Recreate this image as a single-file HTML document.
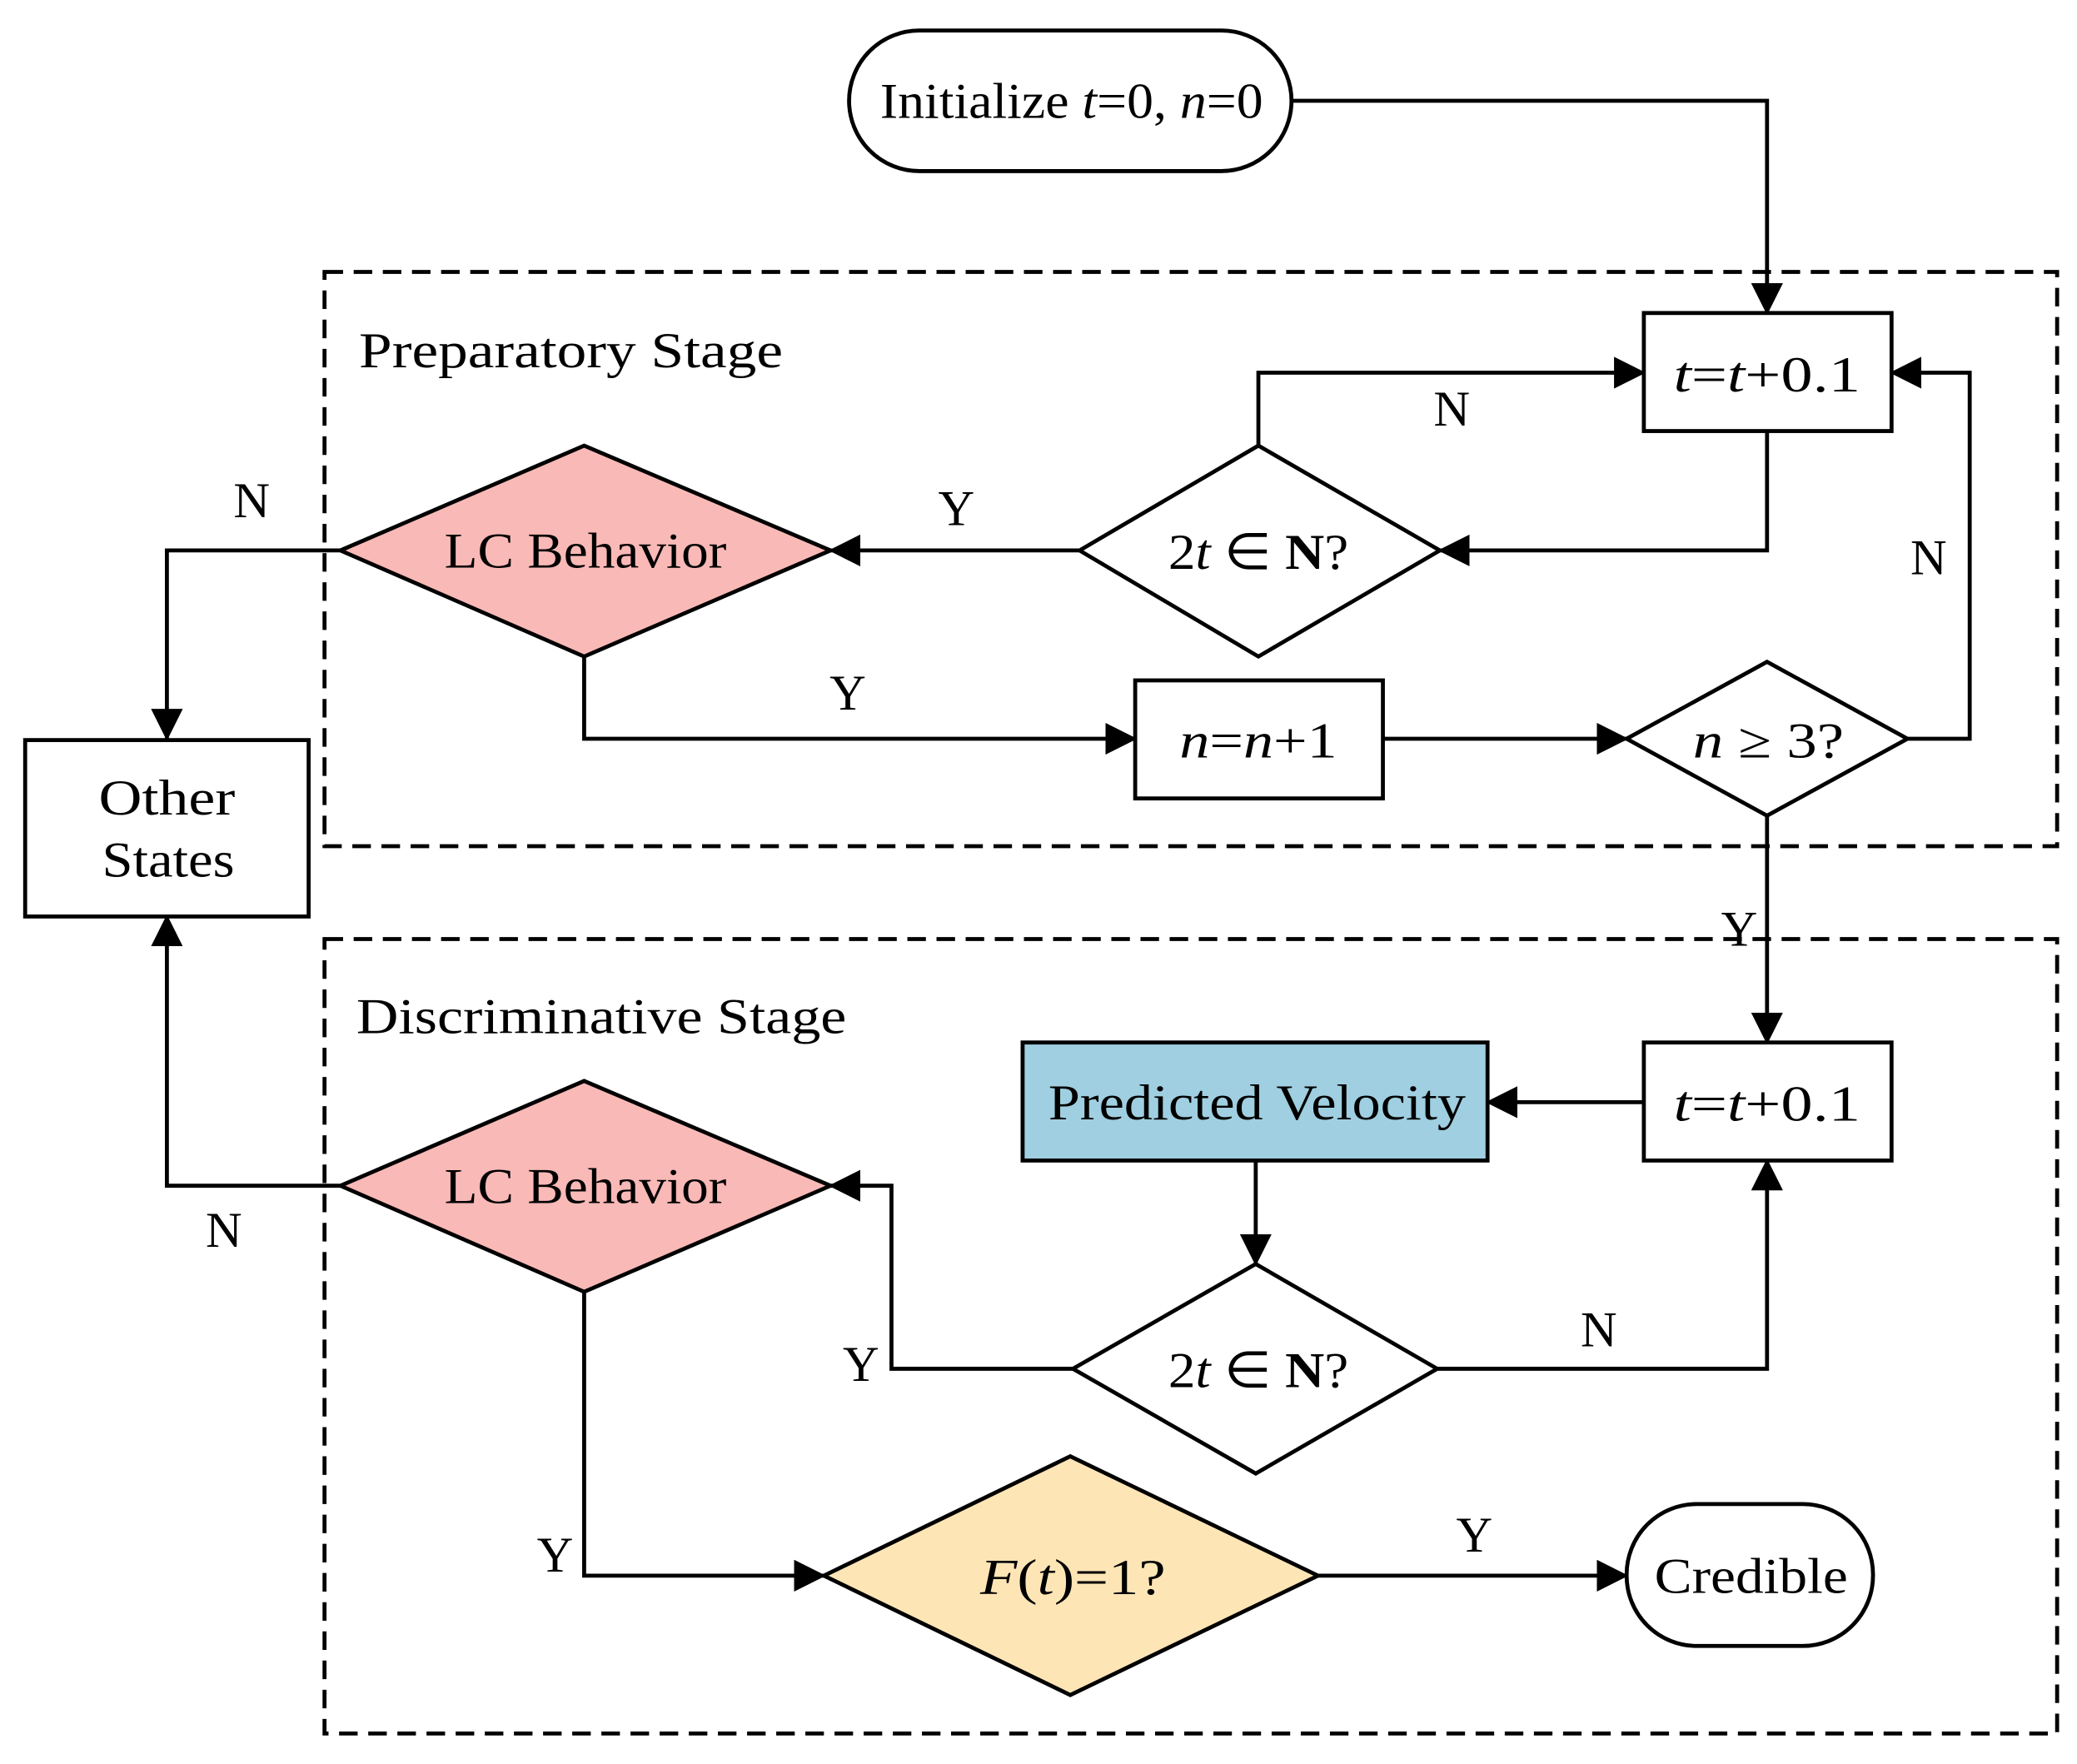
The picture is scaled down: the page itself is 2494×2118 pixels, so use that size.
<!DOCTYPE html>
<html><head><meta charset="utf-8"><style>
html,body{margin:0;padding:0;background:#fff;}
svg{display:block;}
text{font-family:"Liberation Serif",serif;font-size:38px;fill:#000;}
</style></head><body>
<svg width="2494" height="2118" viewBox="0 0 1568 1330" preserveAspectRatio="none" xmlns="http://www.w3.org/2000/svg">
<defs>
<marker id="a" markerWidth="8" markerHeight="8" refX="7.5" refY="4" orient="auto" markerUnits="strokeWidth">
<path d="M0,0 L8,4 L0,8 Z" fill="#000"/>
</marker>
</defs>
<g fill="none" stroke="#000" stroke-width="3">
<rect x="245" y="205" width="1308" height="433" stroke-dasharray="14,8"/>
<rect x="245" y="708" width="1308" height="599" stroke-dasharray="14,8"/>
<rect x="641" y="23" width="334" height="106" rx="53" fill="#fff"/>
<rect x="1241" y="236" width="187" height="89" fill="#fff"/>
<polygon points="815,415 950,336 1087,415 950,495" fill="#fff"/>
<polygon points="257,415 441,336 627,415 441,495" fill="#f9b9b7"/>
<rect x="19" y="558" width="214" height="133" fill="#fff"/>
<rect x="857" y="513" width="187" height="89" fill="#fff"/>
<polygon points="1228,557 1334,499 1440,557 1334,615" fill="#fff"/>
<rect x="1241" y="786" width="187" height="89" fill="#fff"/>
<rect x="772" y="786" width="351" height="89" fill="#9fcfe0"/>
<polygon points="810,1032 948,953 1085,1032 948,1111" fill="#fff"/>
<polygon points="257,894 441,815 627,894 441,974" fill="#f9b9b7"/>
<polygon points="622,1188 808,1098 995,1188 808,1278" fill="#fde5b6"/>
<rect x="1228" y="1134" width="186" height="107" rx="53" fill="#fff"/>

<polyline points="975,76 1334,76 1334,236" marker-end="url(#a)"/>
<polyline points="1334,325 1334,415 1087,415" marker-end="url(#a)"/>
<polyline points="950,336 950,281 1241,281" marker-end="url(#a)"/>
<polyline points="815,415 627,415" marker-end="url(#a)"/>
<polyline points="257,415 126,415 126,557" marker-end="url(#a)"/>
<polyline points="441,495 441,557 857,557" marker-end="url(#a)"/>
<polyline points="1044,557 1228,557" marker-end="url(#a)"/>
<polyline points="1440,557 1487,557 1487,281 1428,281" marker-end="url(#a)"/>
<polyline points="1334,615 1334,786" marker-end="url(#a)"/>
<polyline points="1241,831 1123,831" marker-end="url(#a)"/>
<polyline points="948,875 948,953" marker-end="url(#a)"/>
<polyline points="1085,1032 1334,1032 1334,875" marker-end="url(#a)"/>
<polyline points="810,1032 673,1032 673,894 627,894" marker-end="url(#a)"/>
<polyline points="257,894 126,894 126,691" marker-end="url(#a)"/>
<polyline points="441,974 441,1188 622,1188" marker-end="url(#a)"/>
<polyline points="995,1188 1228,1188" marker-end="url(#a)"/>
</g>
<g text-anchor="middle">
<text x="809" y="89" textLength="289" lengthAdjust="spacingAndGlyphs">Initialize <tspan font-style="italic">t</tspan>=0, <tspan font-style="italic">n</tspan>=0</text>
<text x="1334" y="295" textLength="141" lengthAdjust="spacingAndGlyphs"><tspan font-style="italic">t</tspan>=<tspan font-style="italic">t</tspan>+0.1</text>
<text x="950" y="429" textLength="136" lengthAdjust="spacingAndGlyphs">2<tspan font-style="italic">t</tspan> ∈ <tspan font-weight="bold">N</tspan>?</text>
<text x="442" y="428" textLength="213" lengthAdjust="spacingAndGlyphs">LC Behavior</text>
<text x="126" y="614" textLength="103" lengthAdjust="spacingAndGlyphs">Other</text>
<text x="127" y="661" textLength="100" lengthAdjust="spacingAndGlyphs">States</text>
<text x="950" y="571" textLength="119" lengthAdjust="spacingAndGlyphs"><tspan font-style="italic">n</tspan>=<tspan font-style="italic">n</tspan>+1</text>
<text x="1335" y="571" textLength="114" lengthAdjust="spacingAndGlyphs"><tspan font-style="italic">n</tspan> ≥ 3?</text>
<text x="1334" y="845" textLength="141" lengthAdjust="spacingAndGlyphs"><tspan font-style="italic">t</tspan>=<tspan font-style="italic">t</tspan>+0.1</text>
<text x="949" y="844" textLength="315" lengthAdjust="spacingAndGlyphs">Predicted Velocity</text>
<text x="950" y="1046" textLength="136" lengthAdjust="spacingAndGlyphs">2<tspan font-style="italic">t</tspan> ∈ <tspan font-weight="bold">N</tspan>?</text>
<text x="442" y="907" textLength="213" lengthAdjust="spacingAndGlyphs">LC Behavior</text>
<text x="810" y="1202" textLength="140" lengthAdjust="spacingAndGlyphs"><tspan font-style="italic">F</tspan>(<tspan font-style="italic">t</tspan>)=1?</text>
<text x="1322" y="1201" textLength="146" lengthAdjust="spacingAndGlyphs">Credible</text>
<text x="1096" y="321" font-size="36">N</text>
<text x="722" y="396" font-size="36">Y</text>
<text x="190" y="390" font-size="36">N</text>
<text x="640" y="535" font-size="36">Y</text>
<text x="1456" y="433" font-size="36">N</text>
<text x="1313" y="713" font-size="36">Y</text>
<text x="1207" y="1015" font-size="36">N</text>
<text x="650" y="1041" font-size="36">Y</text>
<text x="169" y="940" font-size="36">N</text>
<text x="419" y="1185" font-size="36">Y</text>
<text x="1113" y="1170" font-size="36">Y</text>
</g>
<text x="271" y="277" textLength="320" lengthAdjust="spacingAndGlyphs">Preparatory Stage</text>
<text x="269" y="779" textLength="370" lengthAdjust="spacingAndGlyphs">Discriminative Stage</text>
</svg>
</body></html>
